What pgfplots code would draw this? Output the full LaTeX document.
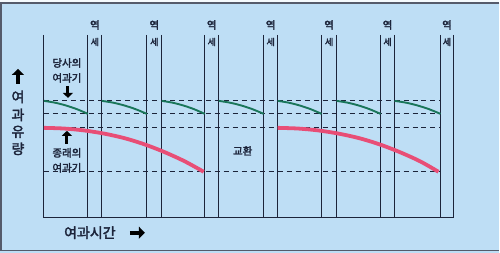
\documentclass[border=0pt]{standalone}
\usepackage{pgfplots}
\pgfplotsset{compat=1.18}
\usepackage{fontspec}
\newfontfamily\kr{Noto Sans CJK KR}[FakeBold=2.5]
\usetikzlibrary{arrows.meta}
\definecolor{bg}{RGB}{190,222,245}
\definecolor{ink}{RGB}{28,36,58}
\definecolor{grn}{RGB}{26,118,90}
\definecolor{pnk}{RGB}{232,78,118}
\begin{document}
\begin{tikzpicture}
\fill[bg] (0,0) rectangle (500pt,253pt);
\fill[white!85!bg] (0,250pt) rectangle (500pt,253pt);
\draw[ink!75,line width=1.2pt] (500pt,250pt) -- (1pt,250pt) -- (1pt,2pt) -- (500pt,2pt);
\begin{axis}[at={(0,0)},anchor=south west,scale only axis,width=500pt,height=253pt,
  xmin=0,xmax=500,ymin=0,ymax=253,y dir=reverse,hide axis,clip=false,
  unbounded coords=jump]
% vertical lines (filter / backwash boundaries)
\addplot[ink,line width=1.1pt] coordinates {
 (44,35) (44,218) (88,nan) (88,35) (88,218) (102,nan) (102,35) (102,218)
 (147,nan) (147,35) (147,218) (162,nan) (162,35) (162,218)
 (205,nan) (205,35) (205,218) (219,nan) (219,35) (219,218)
 (264,nan) (264,35) (264,218) (278,nan) (278,35) (278,218)
 (322,nan) (322,35) (322,218) (337,nan) (337,35) (337,218)
 (381,nan) (381,35) (381,218) (395,nan) (395,35) (395,218)
 (441,nan) (441,35) (441,218) (454,nan) (454,35) (454,218)};
\addplot[ink,line width=1.1pt] coordinates {(44,218) (454,218)};
% dashed reference levels
\addplot[ink,line width=1pt,dash pattern=on 5pt off 4pt] coordinates {
 (44,101) (441,101) (441,nan) (44,114) (441,114) (441,nan)
 (44,128) (441,128) (441,nan) (44,172) (441,172)};
% green: our filter
\addplot[grn,line width=1.9pt,smooth] coordinates {(44,101) (55,102.8) (66,105.6) (77,109.3) (88,114)};
\addplot[grn,line width=1.9pt,smooth] coordinates {(102,101) (113.25,102.8) (124.5,105.6) (135.75,109.3) (147,114)};
\addplot[grn,line width=1.9pt,smooth] coordinates {(162,101) (172.75,102.8) (183.5,105.6) (194.25,109.3) (205,114)};
\addplot[grn,line width=1.9pt,smooth] coordinates {(219,101) (230.25,102.8) (241.5,105.6) (252.75,109.3) (264,114)};
\addplot[grn,line width=1.9pt,smooth] coordinates {(278,101) (289,102.8) (300,105.6) (311,109.3) (322,114)};
\addplot[grn,line width=1.9pt,smooth] coordinates {(337,101) (348,102.8) (359,105.6) (370,109.3) (381,114)};
\addplot[grn,line width=1.9pt,smooth] coordinates {(395,101) (406.5,102.8) (418,105.6) (429.5,109.3) (441,114)};
% pink: conventional filter
\addplot[pnk,line width=3.8pt,smooth] coordinates {(44,128) (64.1,128.7) (84.25,130.6) (104.4,133.8) (124.5,138.3) (144.6,144.5) (164.75,152.3) (184.9,161.5) (204,172)};
\addplot[pnk,line width=3.8pt,smooth] coordinates {(278,128) (298.4,128.7) (318.75,130.6) (339.1,133.8) (359.5,138.3) (379.9,144.5) (400.25,152.3) (420.6,161.5) (439,172)};
% labels
\pgfplotsinvokeforeach{95,154.5,212,271,329.5,388,447.5}{
  \node[font=\kr\fontsize{10.5}{10}\selectfont,text=ink] at (axis cs:#1,25) {역};
  \node[font=\kr\fontsize{9}{9}\selectfont,text=ink] at (axis cs:#1,42) {세};
}
\node[font=\kr\fontsize{10.5}{10}\selectfont,text=ink] at (axis cs:67,63) {당사의};
\node[font=\kr\fontsize{10.5}{10}\selectfont,text=ink] at (axis cs:67,78) {여과기};
\node[font=\kr\fontsize{10.5}{10}\selectfont,text=ink] at (axis cs:67,153) {종래의};
\node[font=\kr\fontsize{10.5}{10}\selectfont,text=ink] at (axis cs:67,168) {여과기};
\node[font=\kr\fontsize{10.5}{10}\selectfont,text=ink] at (axis cs:243,151) {교환};
\node[font=\kr\fontsize{14}{14}\selectfont,text=ink] at (axis cs:90,233) {여과시간};
\node[font=\kr\fontsize{14}{14}\selectfont,text=ink] at (axis cs:18,97) {여};
\node[font=\kr\fontsize{14}{14}\selectfont,text=ink] at (axis cs:18,115) {과};
\node[font=\kr\fontsize{14}{14}\selectfont,text=ink] at (axis cs:18,132) {유};
\node[font=\kr\fontsize{14}{14}\selectfont,text=ink] at (axis cs:18,149) {량};
% arrows
\draw[black,line width=4pt,-{Triangle[length=6pt,width=12pt]}] (axis cs:18,84) -- (axis cs:18,69);
\draw[black,line width=3pt,-{Triangle[length=5pt,width=10pt]}] (axis cs:68,86) -- (axis cs:68,98);
\draw[black,line width=3pt,-{Triangle[length=5pt,width=10pt]}] (axis cs:67,144) -- (axis cs:67,131);
\draw[black,line width=4pt,-{Triangle[length=6pt,width=12pt]}] (axis cs:130,233) -- (axis cs:145,233);
\end{axis}
\end{tikzpicture}
\end{document}
